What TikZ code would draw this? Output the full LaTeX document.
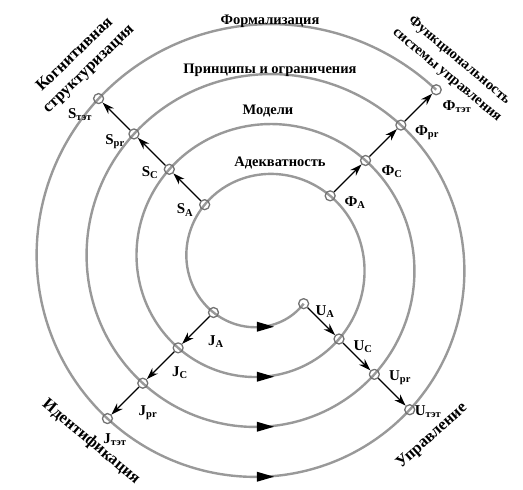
\documentclass[tikz,border=0pt]{standalone}
\usepackage{fontspec}
\setmainfont{Liberation Serif}
\usetikzlibrary{arrows.meta}
\tikzset{
  ringdot/.style={circle, draw=black!55, line width=1.3pt, inner sep=0pt, minimum size=10pt},
  lab/.style={font=\fontsize{15}{15}\selectfont\bfseries, inner sep=0pt},
  ring/.style={font=\fontsize{14.5}{16}\selectfont\bfseries, inner sep=0pt},
  side/.style={font=\fontsize{16.5}{20}\selectfont\bfseries, align=center, inner sep=0pt},
}
\newcommand{\lb}[2]{#1\textsubscript{#2}}

\begin{document}
\begin{tikzpicture}[x=1pt, y=1pt, >={Stealth[length=12pt,width=8pt]}, line join=round]
	\def\ra{57.5} \def\dr{50} % spiral: start radius, growth per turn
	\useasboundingbox (-263,-227) rectangle (260,263);
	% spiral
	\draw[black!40, line width=2.4pt, smooth, samples=400] plot[domain=0:1350] ({(\ra+\x/360*\dr)*cos(-45-\x)}, {(\ra+\x/360*\dr)*sin(-45-\x)});
	\foreach \k in {0,...,3}
		\fill ({-6},{-(\ra+\dr*(\k+0.125))+5}) -- ++(17,-5) -- ++(-17,-5) -- cycle;
	% points on the spiral
	\foreach \n [count=\k from 0] in {A,C,pr,tet}{
		\node[ringdot] (U\n) at (-45:{\ra+\dr*\k}) {};
		\node[ringdot] (J\n) at (-135:{\ra+\dr*(\k+0.25)}) {};
		\node[ringdot] (S\n) at (135:{\ra+\dr*(\k+0.5)}) {};
		\node[ringdot] (F\n) at (45:{\ra+\dr*(\k+0.75)}) {};
	}
	\foreach \s in {U,J,S,F}{
		\draw[->, line width=1.2pt] (\s A) -- (\s C);
		\draw[->, line width=1.2pt] (\s C) -- (\s pr);
		\draw[->, line width=1.2pt] (\s pr) -- (\s tet);
	}
	% labels
	\node[lab] (lSA) at (-78,53) {\lb{S}{A}};
	\node[lab] (lSC) at (-113,90) {\lb{S}{C}};
	\node[lab] (lSpr) at (-148,121) {\lb{S}{pr}};
	\node[lab] (lStet) at (-183,148) {\lb{S}{тэт}};
	\node[lab] (lFA) at (92,60) {\lb{Ф}{A}};
	\node[lab] (lFC) at (129,91) {\lb{Ф}{C}};
	\node[lab] (lFpr) at (164,130) {\lb{Ф}{pr}};
	\node[lab] (lFtet) at (194,156) {\lb{Ф}{тэт}};
	\node[lab] (lJA) at (-47,-79) {\lb{J}{A}};
	\node[lab] (lJC) at (-83,-110) {\lb{J}{C}};
	\node[lab] (lJpr) at (-115,-150) {\lb{J}{pr}};
	\node[lab] (lJtet) at (-148,-177) {\lb{J}{тэт}};
	\node[lab] (lUA) at (62,-49) {\lb{U}{A}};
	\node[lab] (lUC) at (100,-84) {\lb{U}{C}};
	\node[lab] (lUpr) at (137,-115) {\lb{U}{pr}};
	\node[lab] (lUtet) at (165,-149) {\lb{U}{тэт}};
	% rings
	\node[ring] (tForm) at (7,242) {Формализация};
	\node[ring] (tPrin) at (7,193) {Принципы и ограничения};
	\node[ring] (tMod) at (5,152) {Модели};
	\node[ring] (tAdek) at (17,100) {Адекватность};
	% corners
	\node[side, rotate=44] (tKog) at (-181,201) {Когнитивная\\структуризация};
	\node[side, rotate=-40, font=\fontsize{14.5}{19}\selectfont\bfseries] (tFun) at (190,195) {Функциональность\\системы управления};
	\node[side, rotate=-40] (tId) at (-172,-179) {Идентификация};
	\node[side, rotate=42] (tUpr) at (169,-173) {Управление};
\end{tikzpicture}
\end{document}
